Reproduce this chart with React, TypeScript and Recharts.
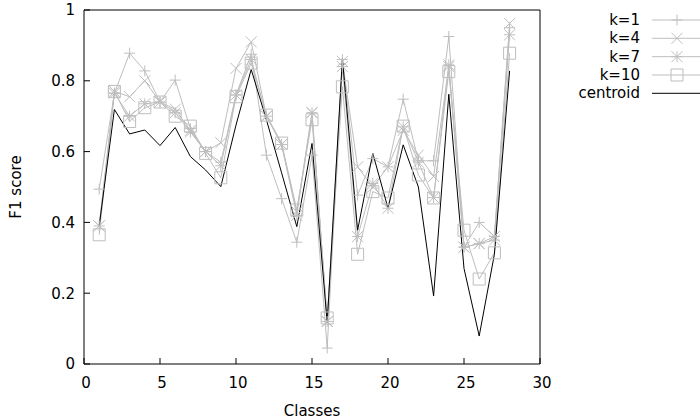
import React from "react";
import { LineChart, Line, XAxis, YAxis } from "recharts";

const classes = [
  1, 2, 3, 4, 5, 6, 7, 8, 9, 10, 11, 12, 13, 14, 15, 16, 17, 18, 19, 20, 21,
  22, 23, 24, 25, 26, 27, 28,
];
const k1 = [
  0.494, 0.765, 0.878, 0.828, 0.74, 0.802, 0.665, 0.6, 0.57, 0.76, 0.875, 0.59,
  0.467, 0.344, 0.59, 0.045, 0.86, 0.477, 0.58, 0.557, 0.748, 0.574, 0.574,
  0.925, 0.33, 0.4, 0.36, 0.95,
];
const k4 = [
  0.39, 0.77, 0.755, 0.8, 0.74, 0.72, 0.66, 0.6, 0.625, 0.835, 0.91, 0.7, 0.62,
  0.43, 0.71, 0.12, 0.855, 0.557, 0.5, 0.557, 0.66, 0.59, 0.53, 0.84, 0.33,
  0.34, 0.36, 0.962,
];
const k7 = [
  0.39, 0.765, 0.7, 0.735, 0.74, 0.71, 0.655, 0.6, 0.56, 0.76, 0.86, 0.7, 0.62,
  0.42, 0.71, 0.12, 0.84, 0.36, 0.51, 0.44, 0.67, 0.57, 0.47, 0.845, 0.33, 0.34,
  0.35, 0.93,
];
const k10 = [
  0.365, 0.77, 0.685, 0.724, 0.74, 0.7, 0.672, 0.595, 0.526, 0.755, 0.85,
  0.703, 0.624, 0.435, 0.69, 0.13, 0.783, 0.31, 0.487, 0.469, 0.672, 0.534,
  0.469, 0.826, 0.378, 0.24, 0.314, 0.878,
];
const centroid = [
  0.39, 0.719, 0.65, 0.661, 0.617, 0.668, 0.586, 0.548, 0.501, 0.675, 0.832,
  0.69, 0.54, 0.388, 0.623, 0.116, 0.863, 0.378, 0.595, 0.44, 0.619, 0.5,
  0.192, 0.762, 0.27, 0.079, 0.31, 0.828,
];
const xTicks = [0, 5, 10, 15, 20, 25, 30];
const yTicks = [0, 0.2, 0.4, 0.6, 0.8, 1];

const data = classes.map((c, i) => ({
  c,
  k1: k1[i],
  k4: k4[i],
  k7: k7[i],
  k10: k10[i],
  centroid: centroid[i],
}));

const GRAY = "#bebebe";
const FONT = "DejaVu Sans";

type Shape = "plus" | "cross" | "star" | "box" | "none";

const series: { key: string; name: string; shape: Shape; color: string }[] = [
  { key: "k1", name: "k=1", shape: "plus", color: GRAY },
  { key: "k4", name: "k=4", shape: "cross", color: GRAY },
  { key: "k7", name: "k=7", shape: "star", color: GRAY },
  { key: "k10", name: "k=10", shape: "box", color: GRAY },
  { key: "centroid", name: "centroid", shape: "none", color: "#000" },
];

function markerPath(shape: Shape, x: number, y: number) {
  const s = 5.5;
  const plus = `M${x - s},${y}H${x + s}M${x},${y - s}V${y + s}`;
  const cross = `M${x - s},${y - s}L${x + s},${y + s}M${x - s},${y + s}L${x + s},${y - s}`;
  if (shape === "plus") return plus;
  if (shape === "cross") return cross;
  if (shape === "star") return plus + cross;
  if (shape === "box") return `M${x - 6},${y - 6}H${x + 6}V${y + 6}H${x - 6}Z`;
  return "";
}

const makeDot = (shape: Shape, color: string) => (props: any) => {
  const { cx, cy, index } = props;
  if (cx == null || cy == null) return <g key={`${shape}-${index}`} />;
  return (
    <path
      key={`${shape}-${index}`}
      d={markerPath(shape, cx, cy)}
      stroke={color}
      strokeWidth={1}
      fill="none"
    />
  );
};

function LegendBox() {
  const rows = [20, 38.3, 56.7, 75, 93.3];
  return (
    <svg
      width={160}
      height={110}
      style={{ position: "absolute", left: 540, top: 0 }}
    >
      {series.map((s, i) => (
        <g key={s.key}>
          <text
            x={100}
            y={rows[i]}
            textAnchor="end"
            dominantBaseline="central"
            fontFamily={FONT}
            fontSize={15}
            fill="#000"
          >
            {s.name}
          </text>
          <line
            x1={112}
            x2={160}
            y1={rows[i]}
            y2={rows[i]}
            stroke={s.color}
            strokeWidth={1}
          />
          {s.shape !== "none" && (
            <path
              d={markerPath(s.shape, 137, rows[i])}
              stroke={s.color}
              fill="none"
            />
          )}
        </g>
      ))}
    </svg>
  );
}

export default function App() {
  const tickStyle = { fill: "#000", fontSize: 15, fontFamily: FONT };
  return (
    <div
      style={{
        position: "absolute",
        left: 0,
        top: 0,
        width: 700,
        height: 419,
        background: "#fff",
      }}
    >
      <LineChart
        width={700}
        height={419}
        data={data}
        margin={{ top: 9, right: 159, bottom: 0, left: 14 }}
        style={{ fontFamily: FONT }}
      >
        <XAxis
          xAxisId="b"
          dataKey="c"
          type="number"
          domain={[0, 30]}
          ticks={xTicks}
          height={55}
          tickSize={-6}
          tickMargin={19}
          tick={{ ...tickStyle, dx: 2 }}
          axisLine={{ stroke: "#000" }}
          tickLine={{ stroke: "#000" }}
          label={{
            value: "Classes",
            position: "insideBottom",
            offset: 3,
            fill: "#000",
            fontSize: 15,
            fontFamily: FONT,
          }}
        />
        <XAxis
          xAxisId="t"
          orientation="top"
          type="number"
          domain={[0, 30]}
          ticks={xTicks}
          height={1}
          tickSize={-6}
          tick={false}
          axisLine={{ stroke: "#000" }}
          tickLine={{ stroke: "#000" }}
        />
        <YAxis
          yAxisId="l"
          type="number"
          domain={[0, 1]}
          ticks={yTicks}
          width={70}
          tickSize={-6}
          tickMargin={15}
          tick={tickStyle}
          axisLine={{ stroke: "#000" }}
          tickLine={{ stroke: "#000" }}
          label={{
            value: "F1 score",
            angle: -90,
            position: "insideLeft",
            offset: 2,
            fill: "#000",
            fontSize: 15,
            fontFamily: FONT,
            style: { textAnchor: "middle" },
          }}
        />
        <YAxis
          yAxisId="r"
          orientation="right"
          type="number"
          domain={[0, 1]}
          ticks={yTicks}
          width={1}
          tickSize={-6}
          tick={false}
          axisLine={{ stroke: "#000" }}
          tickLine={{ stroke: "#000" }}
        />
        {series.map((s) => (
          <Line
            key={s.key}
            xAxisId="b"
            yAxisId="l"
            type="linear"
            dataKey={s.key}
            name={s.name}
            stroke={s.color}
            strokeWidth={1}
            dot={s.shape === "none" ? false : makeDot(s.shape, s.color)}
            activeDot={false}
            isAnimationActive={false}
          />
        ))}
      </LineChart>
      <LegendBox />
    </div>
  );
}
